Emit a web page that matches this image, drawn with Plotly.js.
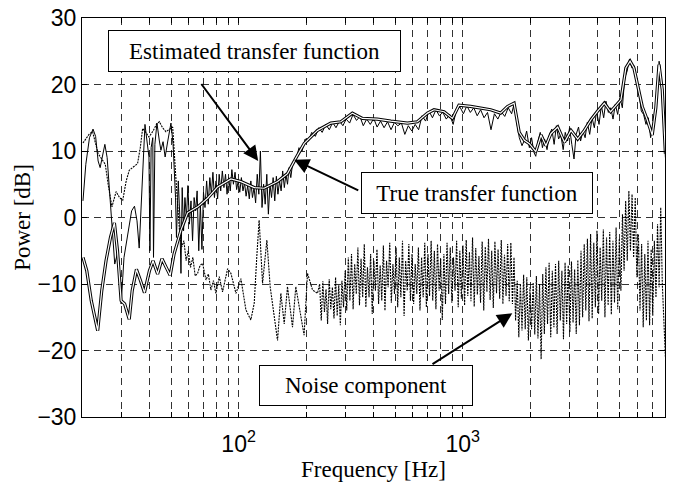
<!DOCTYPE html>
<html><head><meta charset="utf-8">
<script src="https://cdn.plot.ly/plotly-3.0.1.min.js"></script>
<style>html,body{margin:0;padding:0;background:#fff;} #chart{width:677px;height:482px;}</style>
</head><body><div id="chart"></div>
<script>
// ---- data ----
const trueFreq = [20.2, 21.0, 22.0, 23.5, 24.5, 25.6, 26.8, 27.9, 28.8, 29.9,
  31.0, 32.5, 33.5, 35.0, 36.5, 38.0, 40.0, 41.5, 43.5, 45.5,
  47.5, 49.5, 51.5, 53.5, 55.3, 59.2, 65.7, 72.7, 80.6, 92.4,
  102.4, 117.4, 130, 149.2, 165.3, 180, 196, 225, 258, 286,
  322, 357, 416, 478, 567, 628, 697, 745, 826, 900,
  963, 1085, 1203, 1333, 1477, 1585, 1696, 1788, 1886, 1985,
  2120, 2236, 2353, 2476, 2657, 2846, 3044, 3261, 3492, 3738,
  4003, 4288, 4574, 4750, 5087, 5352, 5588, 5810, 6015, 6330,
  6663, 7015, 7280, 7522, 7778, 8035];
const trueDb = [-6.0, -8.0, -12.5, -17.0, -11.0, -6.5, -3.0, -0.8, -5.0, -12.5,
  -13.0, -15.3, -11.0, -7.8, -9.5, -11.3, -8.0, -6.5, -8.5, -6.2,
  -7.5, -8.7, -5.5, -3.5, -1.9, 0.7, 1.6, 2.9, 4.6, 5.8,
  5.4, 4.5, 4.4, 5.4, 6.6, 8.9, 11.1, 13.1, 14.2, 14.4,
  15.7, 14.9, 14.8, 14.5, 14.2, 14.4, 15.7, 16.2, 15.9, 14.9,
  16.9, 16.7, 16.4, 16.2, 15.7, 16.7, 17.2, 12.8, 11.6, 11.1,
  9.9, 12.4, 10.8, 12.6, 13.6, 11.3, 13.1, 11.8, 13.1, 14.7,
  16.0, 17.2, 15.9, 16.5, 17.7, 22.5, 23.5, 22.5, 20.2, 16.7,
  14.7, 12.4, 16.5, 23.0, 19.2, 9.6];

const estFreq = [20.2, 20.8, 21.6, 22.4, 23.0, 23.6, 24.1, 24.7, 25.3, 25.9,
  26.6, 27.2, 28.0, 29.0, 29.9, 30.8, 32.0, 33.3, 34.3, 35.2,
  36.0, 36.8, 37.6, 38.2, 39.0, 39.8, 40.2, 40.7, 41.4, 41.7,
  42.3, 43.2, 44.3, 45.0, 46.0, 47.0, 48.3, 49.9, 51.0, 52.3,
  52.8, 53.8, 54.6, 55.3, 56.0, 56.8, 57.6, 58.5, 59.4, 60.3,
  61.3, 62.3, 63.3, 64.3, 65.3, 66.4, 67.5, 68.6, 69.7, 70.8,
  72.0, 73.2, 74.4, 75.6, 76.8, 78.0, 79.3, 80.6, 81.9, 83.2,
  84.6, 86.0, 87.4, 88.8, 90.3, 91.8, 93.3, 94.8, 96.4, 98.0,
  99.6, 101.2, 102.9, 104.6, 106.3, 108.0, 109.8, 111.6, 113.4, 115.3,
  117.2, 119.1, 121.1, 123.1, 125.1, 127.2, 129.3, 131.4, 133.6, 135.8,
  138.0, 140.3, 142.6, 145.0, 147.4, 149.8, 152.3, 154.8, 157.3, 160.0,
  162.6, 165.3, 168.0, 171.0, 174.0, 180, 186, 192, 198, 205,
  212, 220, 228, 236, 245, 254, 263, 272, 282, 292,
  302, 313, 324, 336, 348, 360, 373, 387, 401, 415,
  430, 446, 462, 479, 496, 514, 533, 552, 572, 593,
  614, 636, 659, 683, 708, 733, 760, 787, 815, 845,
  875, 907, 939, 973, 1008, 1044, 1082, 1121, 1161, 1203,
  1246, 1291, 1338, 1386, 1436, 1488, 1541, 1597, 1654, 1700,
  1750, 1790, 1840, 1885, 1930, 1985, 2030, 2080, 2120, 2170,
  2220, 2270, 2320, 2380, 2440, 2500, 2560, 2620, 2680, 2740,
  2810, 2870, 2940, 3000, 3070, 3140, 3210, 3290, 3360, 3440,
  3520, 3600, 3690, 3780, 3870, 3960, 4060, 4160, 4260, 4360,
  4470, 4580, 4690, 4800, 4920, 5040, 5160, 5290, 5420, 5550,
  5690, 5830, 5970, 6120, 6270, 6420, 6580, 6740, 6900, 7070,
  7250, 7430, 7530, 7620, 7800, 7950, 8035];
const estDb = [2.5, 8.0, 12.0, 13.3, 12.2, 8.5, 7.5, 9.5, 11.0, 9.0,
  3.0, -1.0, -7.0, -5.0, -13.0, -6.0, -2.5, 1.0, 1.7, -0.5,
  -4.6, 3.0, 11.0, 14.0, 11.5, 9.1, -5.0, 10.5, 12.0, -6.0,
  11.0, 14.2, 11.5, 10.1, 11.4, 9.1, 11.5, 14.2, 11.0, 3.0,
  -3.0, 5.5, 0.5, -8.4, 4.5, -2.0, 3.0, 0.0, 4.8, -1.0,
  2.5, -3.5, 3.0, 1.0, 4.0, -5.0, 2.0, -4.8, 3.8, 1.5,
  5.5, 2.0, 6.0, 3.5, 6.8, 3.0, 5.5, 2.8, 6.5, 4.0,
  7.0, 4.5, 6.5, 3.5, 6.0, 4.0, 7.2, 5.0, 6.8, 4.2,
  5.5, 3.8, 6.0, 4.0, 5.2, 3.2, 4.8, 2.8, 5.5, 3.0,
  4.5, 2.2, 6.5, 3.5, 10.0, 1.5, 5.0, 2.0, 6.5, 0.5,
  5.0, 3.0, 6.0, 2.5, 6.2, 3.5, 5.5, 4.0, 7.0, 4.5,
  6.5, 5.0, 7.5, 6.0, 8.0, 8.5, 10.5, 10.0, 11.8, 11.5,
  12.8, 12.2, 13.5, 12.8, 14.0, 13.2, 14.3, 13.5, 14.5, 13.8,
  14.8, 14.2, 15.5, 14.6, 15.2, 13.8, 14.8, 14.0, 14.9, 13.6,
  14.5, 13.5, 14.4, 13.2, 14.3, 13.8, 14.2, 12.5, 13.8, 13.0,
  14.0, 13.2, 15.3, 14.5, 16.0, 15.0, 16.2, 15.3, 15.8, 14.8,
  15.5, 14.0, 16.3, 16.6, 15.6, 16.8, 15.8, 16.5, 15.3, 16.2,
  15.0, 15.8, 13.2, 15.6, 14.8, 15.9, 15.2, 16.5, 15.6, 17.2,
  14.0, 12.0, 10.8, 11.6, 13.0, 10.5, 12.0, 9.8, 9.2, 11.5,
  12.8, 10.5, 11.8, 10.2, 12.5, 13.3, 11.0, 13.8, 11.8, 12.5,
  10.2, 12.8, 11.5, 13.5, 11.0, 8.8, 12.5, 13.6, 11.5, 13.0,
  12.0, 14.3, 12.5, 15.0, 13.5, 16.0, 14.0, 16.8, 15.0, 17.5,
  15.8, 16.5, 14.8, 17.0, 15.5, 18.0, 16.5, 21.0, 22.0, 23.8,
  22.5, 22.8, 20.5, 19.0, 16.0, 15.5, 14.0, 15.0, 12.0, 13.5,
  15.5, 20.0, 23.5, 22.0, 18.0, 12.0, 9.0];

const noiseFreq = [20.2, 20.8, 21.6, 22.3, 23.0, 23.6, 24.5, 25.4, 26.3, 27.2,
  28.4, 29.4, 30.4, 31.5, 32.5, 33.8, 35.4, 36.4, 37.3, 38.5,
  39.8, 41.5, 43.0, 44.3, 45.8, 47.4, 49.0, 50.8, 52.3, 53.5,
  54.6, 55.8, 57.0, 58.3, 59.6, 61.0, 62.5, 64.0, 65.6, 67.3,
  69.1, 71.5, 73.3, 75.2, 77.2, 79.2, 82.0, 84.8, 87.0, 89.3,
  92.4, 95.0, 97.3, 102.4, 107.8, 113.4, 117.4, 120.5, 123.5, 127.9,
  133.7, 138.3, 144.1, 149.2, 154.4, 159.8, 165.3, 174.0, 180.0, 189.6,
  196.0, 203.0, 213.8, 225.0,
  230, 233.8, 237.7, 241.6, 245.6, 249.6, 253.7, 257.9, 262.2, 266.5,
  270.9, 275.4, 279.9, 284.5, 289.2, 294.0, 298.9, 303.8, 308.8, 313.9,
  319.1, 324.4, 329.7, 335.2, 340.7, 346.3, 352.0, 357.9, 363.8, 369.8,
  375.9, 382.1, 388.4, 394.8, 401.3, 407.9, 414.6, 421.5, 428.4, 435.5,
  442.7, 450.0, 457.4, 465.0, 472.6, 480.4, 488.4, 496.4, 504.6, 512.9,
  521.4, 530.0, 538.8, 547.7, 556.7, 565.9, 575.2, 584.7, 594.3, 604.1,
  614.1, 624.2, 634.5, 645.0, 655.7, 666.5, 677.5, 688.7, 700.0, 711.6,
  723.3, 735.2, 747.4, 759.7, 772.2, 785.0, 797.9, 811.1, 824.5, 838.1,
  851.9, 866.0, 880.3, 894.8, 909.6, 924.6, 939.8, 955.3, 971.1, 987.1,
  1003, 1020, 1037, 1054, 1072, 1089, 1107, 1126, 1144, 1163,
  1182, 1202, 1222, 1242, 1262, 1283, 1304, 1326, 1348, 1370,
  1393, 1416, 1439, 1463, 1487, 1512, 1537, 1562, 1588, 1614,
  1641, 1668, 1695, 1723, 1752, 1781, 1810, 1840, 1871, 1902,
  1933, 1965, 1997, 2030, 2064, 2098, 2133, 2168, 2204, 2240,
  2277, 2315, 2353, 2392, 2432, 2472, 2513, 2554, 2597, 2640,
  2683, 2728, 2773, 2818, 2865, 2912, 2960, 3009, 3059, 3110,
  3161, 3213, 3266, 3320, 3375, 3431, 3488, 3545, 3604, 3663,
  3724, 3785, 3848, 3911, 3976, 4042, 4108, 4176, 4245, 4315,
  4387, 4459, 4533, 4608, 4684, 4761, 4840, 4920, 5001, 5084,
  5168, 5253, 5340, 5428, 5518, 5609, 5702, 5796, 5892, 5989,
  6088, 6189, 6291, 6395, 6500, 6608, 6717, 6828, 6940, 7055,
  7171, 7290, 7410, 7533, 7657, 7783, 7912, 8035];
const noiseDb = [11.2, 11.8, 12.6, 12.9, 11.0, 9.6, 8.8, 8.0, 4.5, 1.6,
  3.9, 3.0, 2.6, 5.5, 7.1, 7.6, 8.1, 10.5, 13.4, 12.8,
  12.1, 13.0, 14.0, 14.4, 13.5, 12.9, 13.3, 13.6, 6.7, 1.5,
  -2.5, -4.4, -3.5, -6.5, -5.0, -7.5, -6.0, -8.8, -8.4, -7.2,
  -6.9, -9.4, -8.5, -10.9, -9.5, -11.4, -8.9, -11.2, -9.5, -7.7,
  -8.4, -10.0, -11.4, -9.2, -13.9, -15.4, -12.9, -6.0, -0.4, -9.9,
  -3.4, -10.4, -15.0, -18.5, -11.4, -16.0, -10.4, -16.5, -10.4, -15.0,
  -17.7, -8.4, -10.9, -11.4,
  -10.0, -15.5, -9.6, -14.2, -10.8, -16.0, -9.3, -13.8, -10.5, -15.2,
  -9.0, -14.8, -10.2, -16.2, -9.5, -13.5, -8.0, -14.0, -6.0, -12.5,
  -5.5, -13.8, -7.0, -11.5, -4.5, -13.2, -6.2, -12.0, -4.0, -13.5,
  -7.5, -12.0, -5.5, -14.5, -6.5, -11.0, -4.8, -13.0, -7.2, -12.5,
  -4.2, -14.0, -6.5, -10.5, -3.8, -12.8, -7.0, -11.5, -4.5, -13.5,
  -6.0, -12.0, -3.5, -14.8, -6.5, -11.0, -4.0, -12.5, -5.5, -13.0,
  -7.0, -11.5, -4.5, -14.0, -6.0, -12.0, -3.8, -13.5, -5.5, -11.8,
  -3.5, -12.5, -5.0, -13.8, -4.0, -11.0, -6.2, -15.4, -5.5, -13.0,
  -3.8, -11.5, -4.5, -12.8, -6.0, -11.0, -3.5, -13.5, -5.0, -12.2,
  -4.2, -13.2, -3.4, -11.8, -5.2, -12.6, -3.0, -13.4, -4.6, -11.6,
  -5.8, -12.8, -3.6, -14.0, -4.4, -11.2, -3.2, -12.4, -5.0, -13.6,
  -3.6, -11.4, -4.8, -12.2, -3.4, -13.0, -5.6, -11.8, -4.0, -12.6,
  -3.8, -13.0, -6.0, -15.5, -9.5, -18.0, -10.0, -17.0, -8.6, -16.8,
  -9.0, -18.5, -10.5, -16.8, -9.8, -17.6, -8.8, -18.2, -10.0, -21.3,
  -8.5, -17.5, -7.5, -16.0, -6.8, -18.0, -8.0, -16.5, -7.0, -17.5,
  -6.5, -15.5, -8.0, -18.3, -6.8, -16.0, -7.2, -17.2, -6.6, -15.8,
  -7.8, -17.5, -6.4, -16.2, -5.0, -15.0, -4.0, -14.0, -3.2, -15.6,
  -2.5, -15.2, -3.8, -13.5, -2.0, -14.5, -4.5, -12.5, -1.8, -15.0,
  -3.0, -13.2, -2.2, -14.6, -3.5, -12.8, -1.5, -13.8, -3.2, -11.0,
  0.5, -8.0, 2.5, -6.5, 4.0, -5.0, 3.5, -6.0, 3.0, -9.0,
  -2.5, -14.0, -4.0, -16.5, -5.5, -15.5, -3.5, -16.2, -4.8, -14.8,
  -3.5, -12.0, -1.0, -10.5, 1.5, -10.0, -16.0, -21.0];

const xTickVals = [20, 30, 40, 50, 60, 70, 80, 90, 100, 200, 300, 400, 500, 600, 700, 800, 900,
  1000, 2000, 3000, 4000, 5000, 6000, 7000, 8000];
const xTickText = xTickVals.map(v => v === 100 ? '10<sup>2</sup>' : (v === 1000 ? '10<sup>3</sup>' : ''));
const yTickVals = [-30, -20, -10, 0, 10, 20, 30];
const xRangeHz = [20, 8000];
const yRangeDb = [-30, 30];

// ---- styling ----
const serif = "'Liberation Serif', 'Times New Roman', Times, serif";
const sans = "'Liberation Sans', Arial, Helvetica, sans-serif";
const L = v => Math.log10(v);

const traces = [
  {x: noiseFreq, y: noiseDb, type: 'scatter', mode: 'lines', hoverinfo: 'skip',
   line: {color: '#000', width: 1.1, dash: '2px,1px'}, name: 'Noise component'},
  {x: estFreq, y: estDb, type: 'scatter', mode: 'lines', hoverinfo: 'skip',
   line: {color: '#000', width: 1}, name: 'Estimated transfer function'},
  {x: trueFreq, y: trueDb, type: 'scatter', mode: 'lines', hoverinfo: 'skip',
   line: {color: '#000', width: 3.2}, name: 'True transfer function'},
  {x: trueFreq, y: trueDb, type: 'scatter', mode: 'lines', hoverinfo: 'skip',
   line: {color: '#fff', width: 1.2}, showlegend: false}
];

const boxStyle = {showarrow: false, xref: 'x', yref: 'y', bgcolor: '#fff',
  bordercolor: '#000', borderwidth: 1, borderpad: 1,
  font: {family: serif, size: 23, color: '#000'}};
const arrowStyle = {text: '', showarrow: true, xref: 'x', yref: 'y', axref: 'x', ayref: 'y',
  arrowhead: 2, arrowsize: 1.5, arrowwidth: 2, arrowcolor: '#000'};

const layout = {
  width: 677, height: 482,
  margin: {l: 82, r: 12, t: 18, b: 65},
  paper_bgcolor: '#fff', plot_bgcolor: '#fff',
  showlegend: false,
  xaxis: {
    type: 'log', range: [L(xRangeHz[0]), L(xRangeHz[1])],
    tickmode: 'array', tickvals: xTickVals, ticktext: xTickText,
    ticks: 'inside', ticklen: 5, tickcolor: '#000', tickwidth: 1,
    showline: true, linecolor: '#000', linewidth: 1, mirror: 'ticks',
    showgrid: true, gridcolor: '#000', gridwidth: 0.8, griddash: '7px,5px',
    zeroline: false, ticklabelstandoff: 6,
    tickfont: {family: sans, size: 23, color: '#000'},
    title: {text: 'Frequency [Hz]', font: {family: serif, size: 23, color: '#000'}, standoff: 4}
  },
  yaxis: {
    range: yRangeDb, tickmode: 'array', tickvals: yTickVals,
    ticks: 'inside', ticklen: 5, tickcolor: '#000', tickwidth: 1,
    showline: true, linecolor: '#000', linewidth: 1, mirror: 'ticks',
    showgrid: true, gridcolor: '#000', gridwidth: 0.8, griddash: '7px,5px',
    zeroline: false,
    tickfont: {family: sans, size: 23, color: '#000'},
    title: {text: 'Power [dB]', font: {family: serif, size: 23, color: '#000'}, standoff: 0}
  },
  annotations: [
    Object.assign({}, boxStyle, {text: 'Estimated transfer function', x: 2.0704, y: 25.1, width: 289, height: 38}),
    Object.assign({}, boxStyle, {text: 'True transfer function', x: 3.062, y: 3.74, width: 228, height: 38}),
    Object.assign({}, boxStyle, {text: 'Noise component', x: 2.5684, y: -25.3, width: 210, height: 37}),
    Object.assign({}, arrowStyle, {x: 2.0874, y: 8.5, ax: 1.8288, ay: 20.3}),
    Object.assign({}, arrowStyle, {x: 2.2479, y: 8.7, ax: 2.5408, ay: 3.97}),
    Object.assign({}, arrowStyle, {x: 3.2216, y: -14.4, ax: 2.8587, ay: -22.2})
  ]
};

Plotly.newPlot('chart', traces, layout, {staticPlot: true, displayModeBar: false});
</script></body></html>
